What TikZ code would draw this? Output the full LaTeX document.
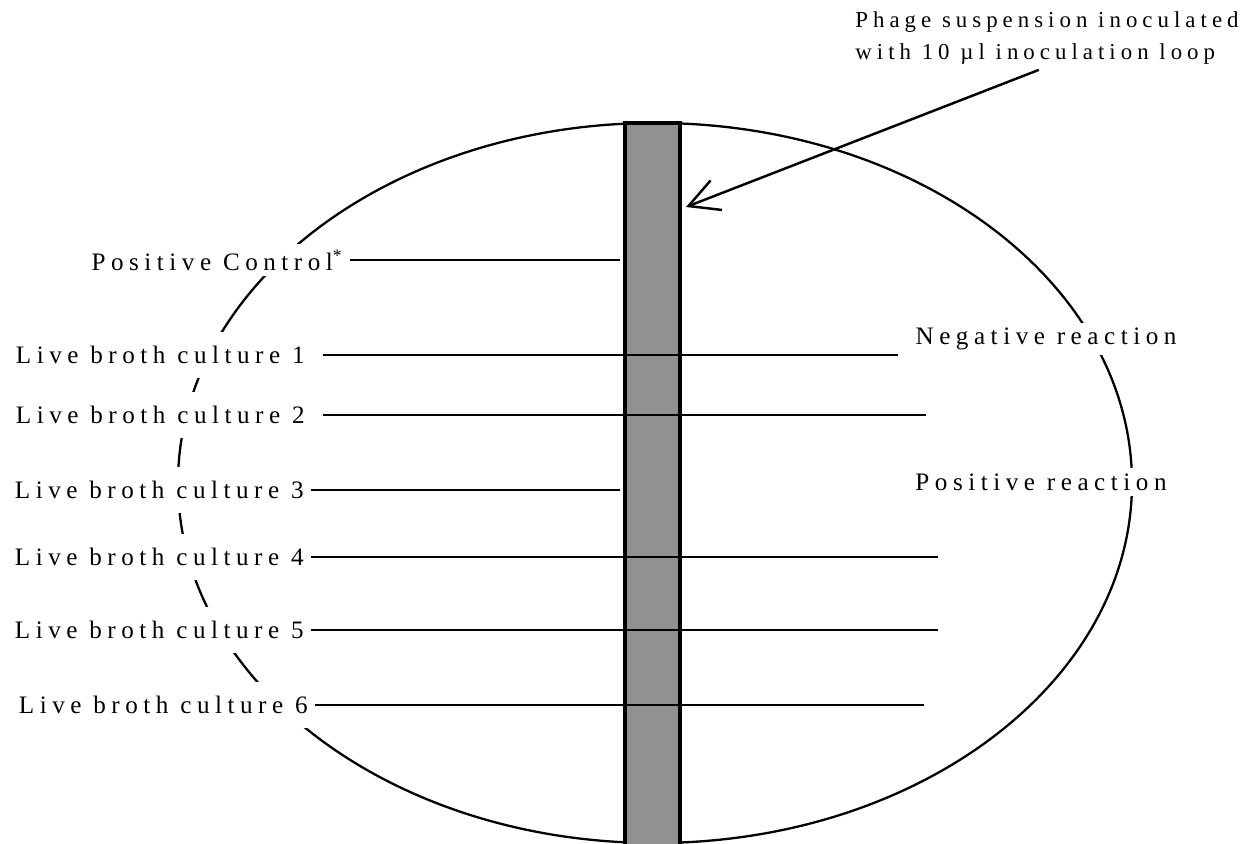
\documentclass[tikz,border=0pt]{standalone}
\usepackage{fontspec}
\setmainfont{Liberation Serif}[LetterSpace=22]
\usetikzlibrary{arrows.meta, positioning}

\begin{document}
\begin{tikzpicture}[
    x=0.02cm, y=-0.02cm,
    plate/.style={draw=black, line width=1.3pt},
    strip/.style={rectangle, draw=black, fill=black!43, line width=1.8pt, minimum width=1.1cm, minimum height=14.54cm, inner sep=0pt},
    culture/.style={rectangle, fill=white, inner xsep=4pt, inner ysep=0pt, minimum height=26pt, font=\fontsize{14.3}{17}\selectfont},
    tag/.style={rectangle, fill=white, inner xsep=4pt, inner ysep=3pt, font=\fontsize{14.3}{17}\selectfont},
    rule/.style={draw=black, line width=1.1pt},
    arrow/.style={-{Straight Barb[length=17pt, width=18pt, line width=1.4pt]}, line width=1.4pt, draw=black}
]
\useasboundingbox (0,0) rectangle (1245,844);
% plate and the streak of phage
\draw [plate] (655,483) ellipse [x radius=477, y radius=360];
\node (strip) [strip] at (652.5,486.5) {};
% labels
\node (pc) [tag, anchor=east] at (350,260) {Positive Control\textsuperscript{*}};
\node (c1) [culture, anchor=east] at (312,355) {Live broth culture 1};
\node (c2) [culture, anchor=east] at (312,415) {Live broth culture 2};
\node (c3) [culture, anchor=east] at (311,490) {Live broth culture 3};
\node (c4) [culture, anchor=east] at (311,557) {Live broth culture 4};
\node (c5) [culture, anchor=east] at (311,630) {Live broth culture 5};
\node (c6) [culture, anchor=east] at (315,705) {Live broth culture 6};
\node (neg) [tag] at (1046,339) {Negative reaction};
\node (pos) [tag] at (1041,482) {Positive reaction};
\node (phage) [tag, anchor=west, align=left, inner ysep=1pt, font=\fontsize{13}{18.5}\selectfont] at (848,38) {Phage suspension inoculated\\with 10 µl inoculation loop};
% line ends
\coordinate (pcend) at (620,260);
\coordinate (c1end) at (898,355);
\coordinate (c2end) at (926,415);
\coordinate (c3end) at (620,490);
\coordinate (c4end) at (938,557);
\coordinate (c5end) at (938,630);
\coordinate (c6end) at (924,705);
\coordinate (hit) at (686,207);
\draw [rule] (pc.east) -- (pcend);
\draw [rule, shorten <=6pt] (c1.east) -- (c1end);
\draw [rule, shorten <=6pt] (c2.east) -- (c2end);
\draw [rule] (c3.east) -- (c3end);
\draw [rule] (c4.east) -- (c4end);
\draw [rule] (c5.east) -- (c5end);
\draw [rule] (c6.east) -- (c6end);
\draw [arrow, shorten <=5pt] (phage.south) -- (hit);
\end{tikzpicture}
\end{document}
